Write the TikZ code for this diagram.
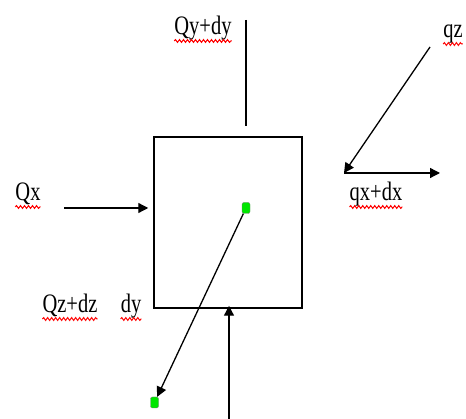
\documentclass[tikz,border=0pt]{standalone}
\usepackage{fontspec}
\setmainfont{Liberation Serif}
\usetikzlibrary{arrows.meta,decorations.pathmorphing,calc}
\definecolor{dotgreen}{RGB}{0,230,0}
\newcommand{\tallword}[1]{\scalebox{1}[1.3]{#1}}

\begin{document}
\begin{tikzpicture}[x=1pt,y=-1pt,>={Triangle[length=10pt,width=10pt]},
   flow/.style={->,line width=1.3pt},
   cell/.style={draw,line width=1.5pt,minimum width=148pt,minimum height=171pt,inner sep=0pt},
   dot/.style={draw=gray,fill=dotgreen,rounded corners=2pt,minimum width=8pt,minimum height=11pt,inner sep=0pt},
   lbl/.style={anchor=base,inner sep=0pt,font=\fontsize{20.5}{22}\selectfont},
   squiggle/.style={red,line width=1pt,decorate,decoration={snake,amplitude=1.4pt,segment length=4pt}}]
  \useasboundingbox (0,0) rectangle (466,419);
  \node[cell] (box) at (228,222.5) {};
  \node[dot] (mid) at (246,208) {};
  \node[dot] (low) at (154.5,402.5) {};
  \node[lbl] (qy)  at (203,35)  {\tallword{Qy+dy}};
  \node[lbl] (qz)  at (453,38)  {\tallword{qz}};
  \node[lbl] (qx)  at (28,201)  {\tallword{Qx}};
  \node[lbl] (qxd) at (376,201) {\tallword{qx+dx}};
  \node[lbl] (qzd) at (70,313)  {\tallword{Qz+dz}};
  \node[lbl] (dy)  at (131,313) {\tallword{dy}};
  \coordinate (qxin)  at (64,208);
  \coordinate (qytop) at (246,20);
  \coordinate (qzin)  at (430,47);
  \coordinate (qxout) at (344,173);
  \coordinate (qxend) at (440,173);
  \coordinate (qzbot) at (229,419);
  \draw[flow,shorten >=5pt] (qxin) -- (qxin -| box.west);
  \draw[line width=1.3pt,shorten >=10pt] (qytop) -- (qytop |- box.north);
  \draw[flow] (qzin) -- (qxout);
  \draw[flow] (qxout) -- (qxend);
  \draw[flow] (mid) -- (low);
  \draw[flow,shorten >=-3pt] (qzbot) -- (qzbot |- box.south);
  \foreach \w in {qy,qz,qx,qxd,qzd,dy}
    \draw[squiggle] ([yshift=-6pt]\w.base west) -- ([yshift=-6pt]\w.base east);
\end{tikzpicture}
\end{document}
